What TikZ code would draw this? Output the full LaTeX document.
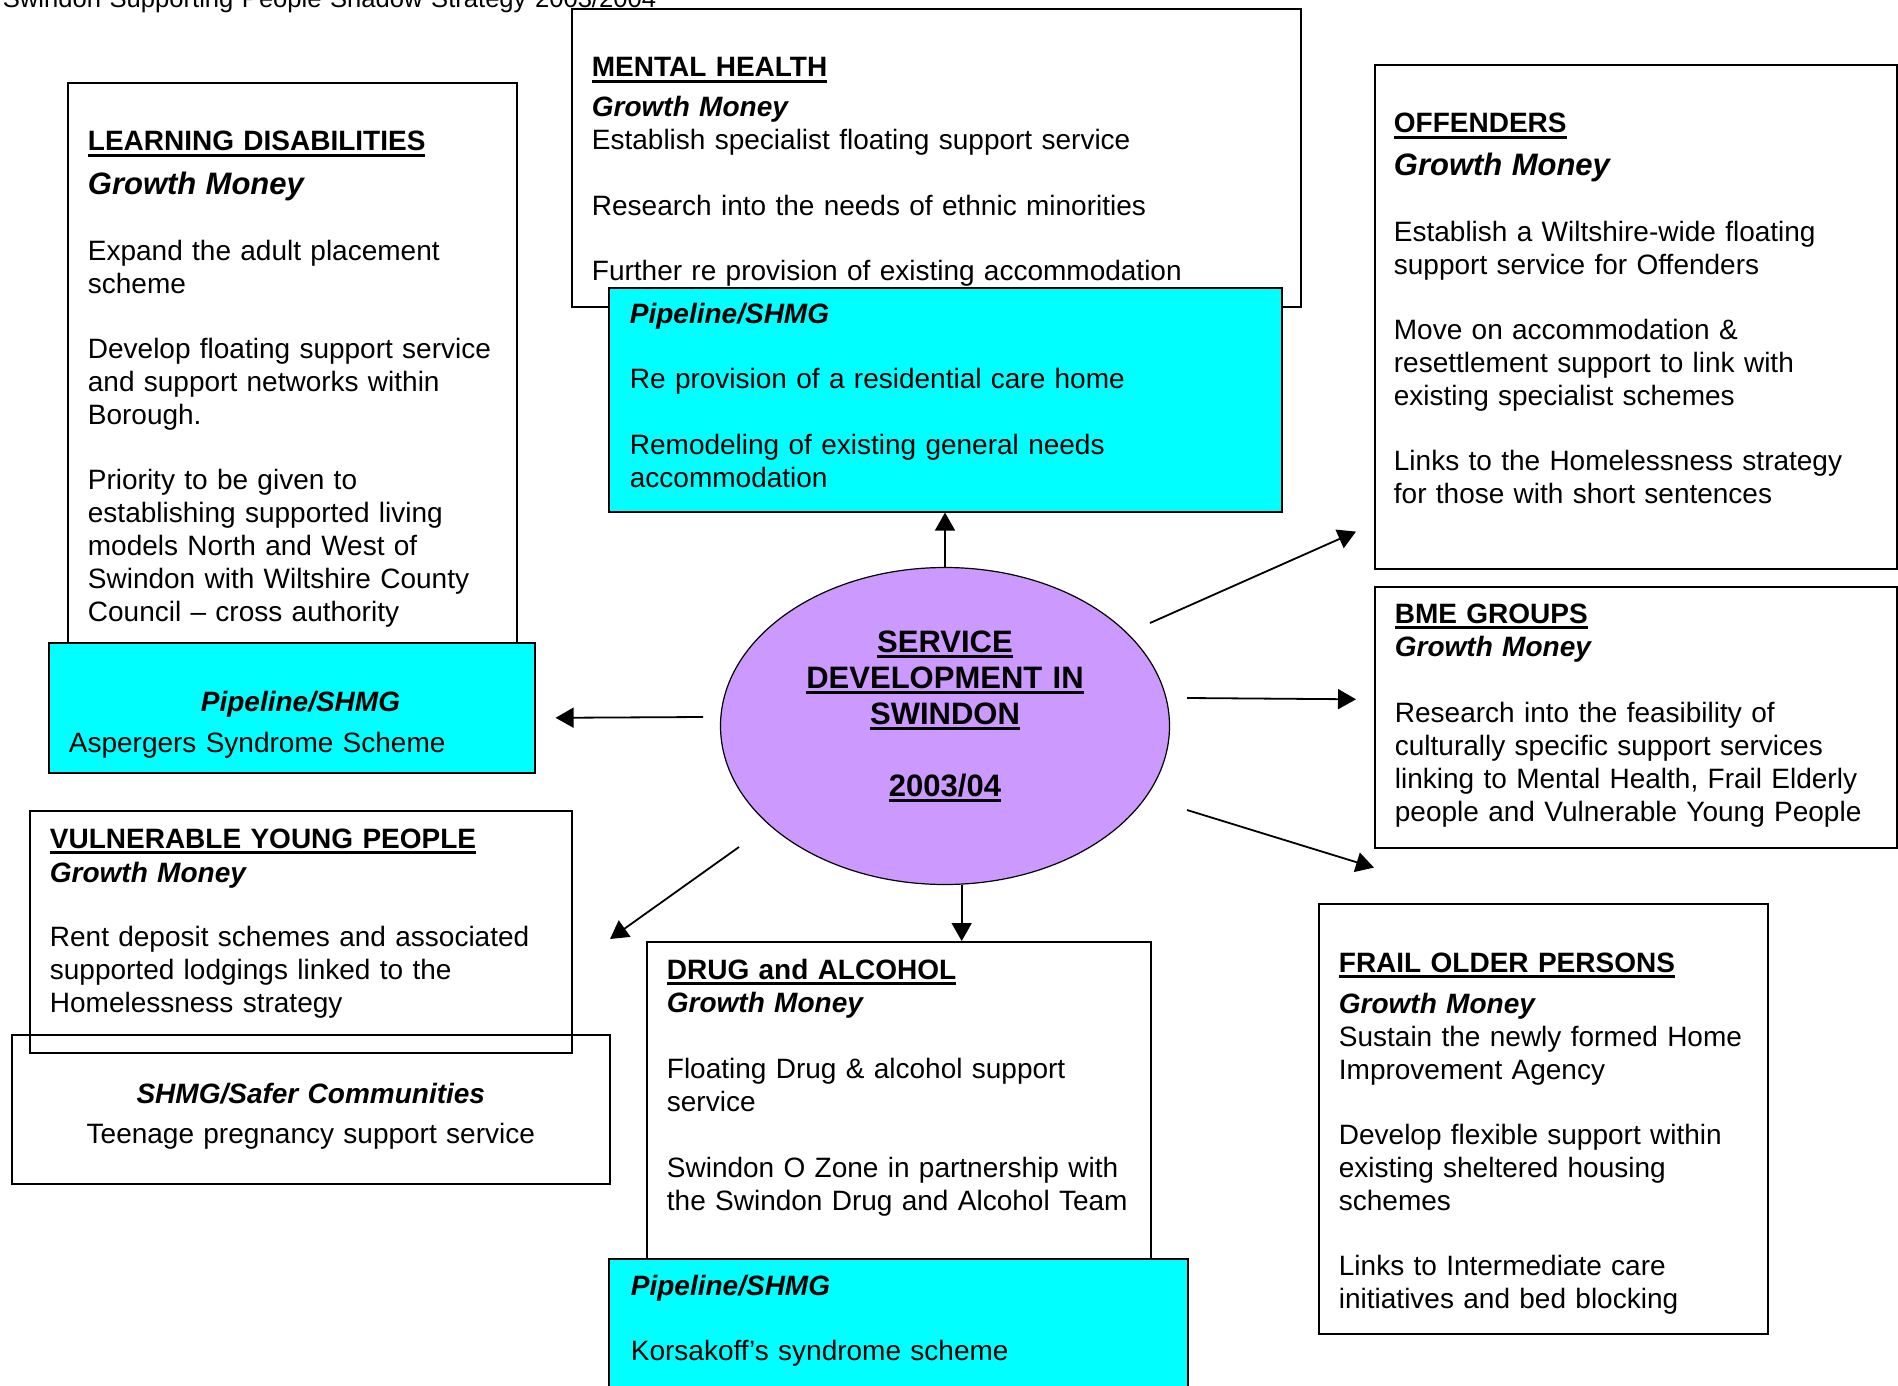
\documentclass[tikz,border=0pt]{standalone}
\usepackage{fontspec}
\setmainfont{Liberation Sans}
\usetikzlibrary{shapes.geometric,arrows.meta,calc}
\definecolor{pipecyan}{RGB}{0,255,255}
\definecolor{hublilac}{RGB}{204,153,255}
\newcommand{\hd}[1]{\leavevmode\setbox0\hbox{\bfseries #1}\rlap{\rule[-3pt]{\wd0}{1.4pt}}\box0}
\newcommand{\gm}[1]{\textbf{\textit{#1}}}

\begin{document}
\begin{tikzpicture}[->, >={Triangle[length=9pt,width=10pt]}, line width=0.9pt, x=0.5pt, y=-0.5pt]
	\tikzstyle{frame}=[draw=black, line width=0.8pt, inner sep=0pt, anchor=north west]
	\tikzstyle{pipe}=[frame, fill=pipecyan]
	\tikzstyle{txt}=[anchor=base west, inner sep=0pt, text width=340pt, align=left, font=\fontsize{14}{16.5}\selectfont]
	\tikzstyle{hubtxt}=[anchor=base, inner sep=0pt, text width=200pt, align=center, font=\fontsize{15.5}{18}\selectfont\bfseries]
	\useasboundingbox (0,0) rectangle (1898,1385);

	\node[txt, font=\fontsize{12.8}{15}\selectfont] (title) at (2,8) {Swindon Supporting People Shadow Strategy 2003/2004};

	% boxes
	\node[frame, minimum width=224.5pt, minimum height=280pt]   (ld)       at (67,82)    {};
	\node[frame, minimum width=364.5pt, minimum height=149pt]   (mh)       at (571,8)    {};
	\node[frame, minimum width=261pt,   minimum height=252pt]   (off)      at (1374,64)  {};
	\node[frame, minimum width=261pt,   minimum height=130.5pt] (bme)      at (1374,586) {};
	\node[frame, minimum width=224.5pt, minimum height=215pt]   (frail)    at (1318,903) {};
	\node[frame, minimum width=252pt,   minimum height=158.5pt] (drug)     at (646,941)  {};
	\node[frame, minimum width=271pt,   minimum height=121pt]   (vyp)      at (29,810)   {};
	\node[frame, minimum width=299pt,   minimum height=74.5pt]  (teen)     at (11,1034)  {};
	\node[pipe,  minimum width=243pt,   minimum height=65pt]    (ldpipe)   at (48,642)   {};
	\node[pipe,  minimum width=336.5pt, minimum height=112pt]   (mhpipe)   at (608,287)  {};
	\node[pipe,  minimum width=289.5pt, minimum height=70pt]    (drugpipe) at (608,1258) {};

	% texts
	\node[txt] (ldtxt) at ($(ld.north west)+(20,69)$) {\hd{LEARNING DISABILITIES}\\[5.5pt]
		{\fontsize{15.5}{16.5}\selectfont\gm{Growth Money}}\\[16.5pt]
		Expand the adult placement\\ scheme\\[16pt]
		Develop floating support service\\ and support networks within\\ Borough.\\[16pt]
		Priority to be given to\\ establishing supported living\\ models North and West of\\ Swindon with Wiltshire County\\ Council – cross authority};
	\node[txt] (ldpipetxt) at ($(ldpipe.north west)+(20,69)$) {\hspace*{66pt}\gm{Pipeline/SHMG}\\[4pt]
		Aspergers Syndrome Scheme};
	\node[txt] (mhtxt) at ($(mh.north west)+(20,69)$) {\hd{MENTAL HEALTH}\\[3.5pt]
		\gm{Growth Money}\\
		Establish specialist floating support service\\[16.5pt]
		Research into the needs of ethnic minorities\\[16pt]
		Further re provision of existing accommodation};
	\node[txt] (mhpipetxt) at ($(mhpipe.north west)+(21,36)$) {\gm{Pipeline/SHMG}\\[16pt]
		Re provision of a residential care home\\[16.5pt]
		Remodeling of existing general needs\\ accommodation};
	\node[txt] (offtxt) at ($(off.north west)+(19,69)$) {\hd{OFFENDERS}\\[5pt]
		{\fontsize{15.5}{16.5}\selectfont\gm{Growth Money}}\\[16.5pt]
		Establish a Wiltshire-wide floating\\ support service for Offenders\\[16pt]
		Move on accommodation \&\\ resettlement support to link with\\ existing specialist schemes\\[16pt]
		Links to the Homelessness strategy\\ for those with short sentences};
	\node[txt] (bmetxt) at ($(bme.north west)+(20,37)$) {\hd{BME GROUPS}\\
		\gm{Growth Money}\\[16.5pt]
		Research into the feasibility of\\ culturally specific support services\\ linking to Mental Health, Frail Elderly\\ people and Vulnerable Young People};
	\node[txt] (frailtxt) at ($(frail.north west)+(20,69)$) {\hd{FRAIL OLDER PERSONS}\\[4pt]
		\gm{Growth Money}\\
		Sustain the newly formed Home\\ Improvement Agency\\[16pt]
		Develop flexible support within\\ existing sheltered housing\\ schemes\\[16pt]
		Links to Intermediate care\\ initiatives and bed blocking};
	\node[txt] (drugtxt) at ($(drug.north west)+(20,38)$) {\hd{DRUG and ALCOHOL}\\
		\gm{Growth Money}\\[16.5pt]
		Floating Drug \& alcohol support\\ service\\[16.5pt]
		Swindon O Zone in partnership with\\ the Swindon Drug and Alcohol Team};
	\node[txt] (drugpipetxt) at ($(drugpipe.north west)+(22,37)$) {\gm{Pipeline/SHMG}\\[16pt]
		Korsakoff’s syndrome scheme};
	\node[txt] (vyptxt) at ($(vyp.north west)+(20,38)$) {\hd{VULNERABLE YOUNG PEOPLE}\\[0.5pt]
		\gm{Growth Money}\\[15.5pt]
		Rent deposit schemes and associated\\ supported lodgings linked to the\\ Homelessness strategy};
	\node[txt, anchor=base, align=center, text width=290pt] (teentxt) at ($(teen.north)+(0,69)$) {\gm{SHMG/Safer Communities}\\[3.5pt]
		Teenage pregnancy support service};

	% centre
	\node[ellipse, draw=black, line width=0.6pt, fill=hublilac, inner sep=0pt,
		minimum width=224.5pt, minimum height=158.5pt] (hub) at (945,726) {};
	\node[hubtxt] (hubtxt) at ($(hub.center)+(0,-74)$) {\hd{SERVICE}\\ \hd{DEVELOPMENT IN}\\ \hd{SWINDON}\\[18pt] \hd{2003/04}};

	% arrows
	\draw (hub.north) -- (hub.north |- mhpipe.south);
	\draw (hub.-84) -- (hub.-84 |- drug.north);
	\draw ($(hub.center)+(-242,-9)$) -- ($(ldpipe.east)+(20,10)$);
	\draw ($(hub.center)+(205,-103)$) -- ($(off.south west)+(-18,-38)$);
	\draw ($(hub.center)+(242,-28)$) -- ($(bme.west)+(-18,-18)$);
	\draw ($(hub.center)+(242,84)$) -- ($(bme.south west)+(0,19)$);
	\draw ($(hub.center)+(-206,121)$) -- ($(drug.north west)+(-36,-2)$);
\end{tikzpicture}
\end{document}
